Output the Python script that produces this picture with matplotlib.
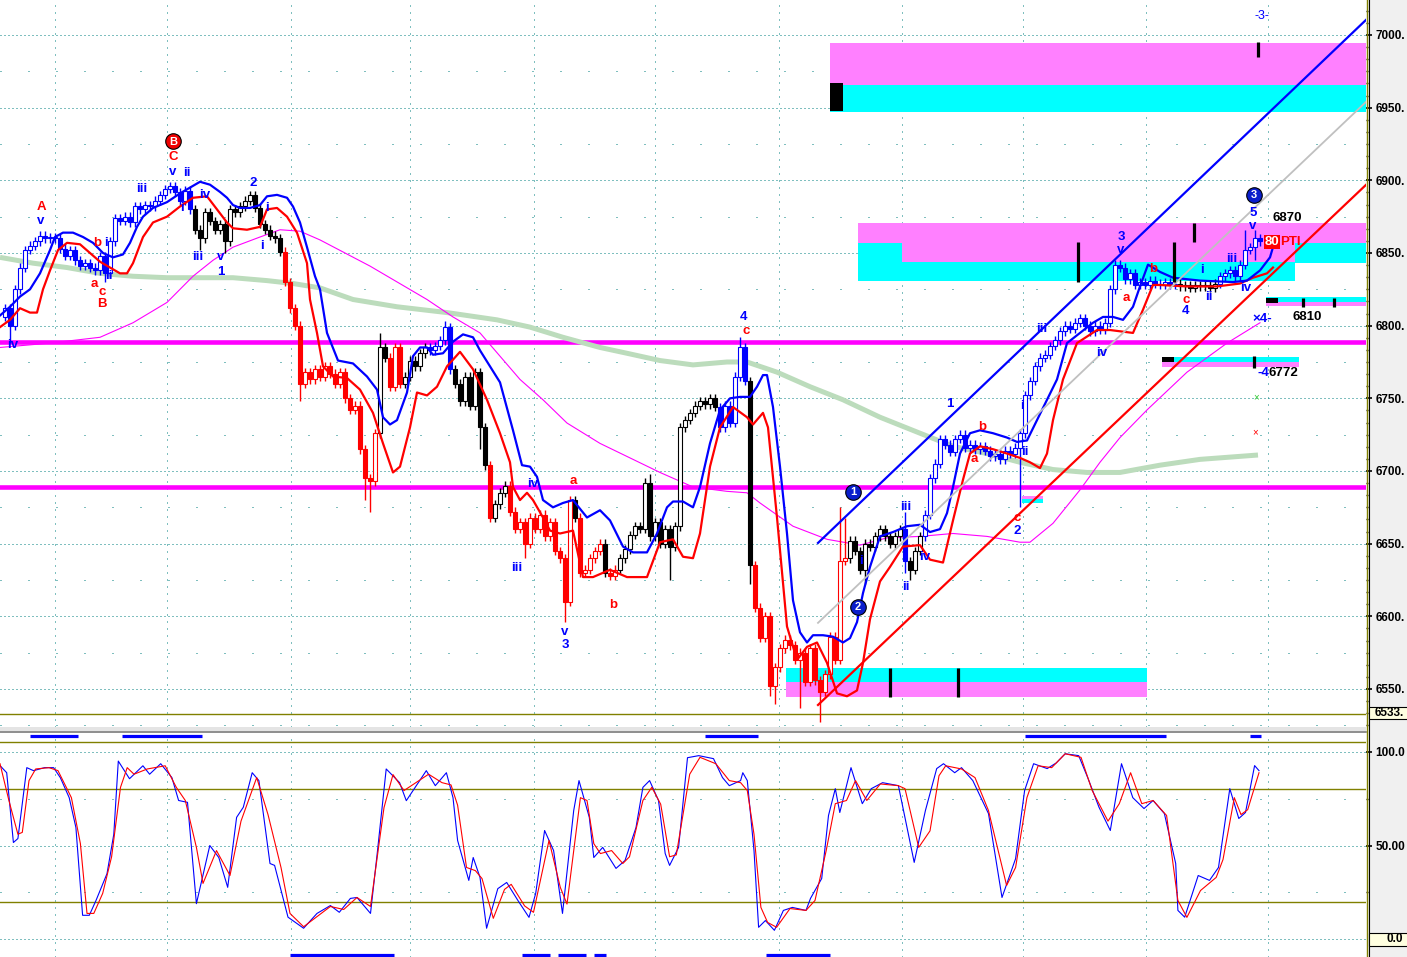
import matplotlib
matplotlib.use("Agg")
import matplotlib.pyplot as plt
from matplotlib.patches import Rectangle
from matplotlib.lines import Line2D

plt.rcParams["lines.scale_dashes"] = False
plt.rcParams["font.family"] = ["Liberation Sans", "DejaVu Sans"]

# ---------------- price bars (bar n, open = previous close) ----------------
FIRST_OPEN = 6806
CLOSE = [
    6812, 6800, 6825, 6840, 6852, 6855, 6858, 6862, 6860, 6861,
    6860, 6853, 6848, 6852, 6845, 6841, 6843, 6840, 6838, 6848,
    6836, 6858, 6874, 6872, 6875, 6871, 6882, 6880, 6883, 6882,
    6886, 6890, 6894, 6896, 6892, 6886, 6893, 6880, 6866, 6860,
    6878, 6872, 6866, 6870, 6858, 6880, 6878, 6882, 6886, 6890,
    6881, 6870, 6866, 6862, 6860, 6851, 6830, 6812, 6800, 6760,
    6768, 6763, 6770, 6765, 6772, 6767, 6760, 6768, 6750, 6742,
    6745, 6715, 6695, 6693, 6726, 6785, 6778, 6758, 6785, 6760,
    6765, 6776, 6772, 6781, 6785, 6783, 6786, 6790, 6799, 6770,
    6760, 6748, 6765, 6745, 6768, 6730, 6704, 6668, 6677, 6685,
    6690, 6672, 6660, 6665, 6650, 6668, 6660, 6670, 6655, 6665,
    6645, 6640, 6610, 6680, 6668, 6630, 6632, 6640, 6645, 6650,
    6630, 6628, 6632, 6640, 6646, 6656, 6662, 6660, 6692, 6655,
    6665, 6650, 6660, 6648, 6662, 6730, 6735, 6740, 6745, 6748,
    6746, 6750, 6744, 6730, 6745, 6733, 6765, 6785, 6762, 6635,
    6606, 6585, 6600, 6552, 6565, 6578, 6584, 6580, 6570, 6575,
    6555, 6578, 6556, 6548, 6560, 6586, 6570, 6638, 6640, 6652,
    6645, 6632, 6650, 6648, 6655, 6660, 6655, 6650, 6655, 6660,
    6638, 6632, 6645, 6655, 6670, 6695, 6705, 6722, 6718, 6713,
    6722, 6725, 6716, 6718, 6715, 6717, 6714, 6710, 6712, 6708,
    6714, 6712, 6716, 6726, 6752, 6762, 6772, 6778, 6780, 6786,
    6790, 6796, 6800, 6798, 6802, 6805, 6800, 6796, 6800, 6797,
    6802, 6825, 6842, 6840, 6832, 6836, 6828, 6830, 6828, 6831,
    6829, 6828, 6830, 6828, 6829, 6827, 6828, 6826, 6828, 6827,
    6828, 6826, 6829, 6834, 6836, 6838, 6834, 6842, 6852, 6854,
    6860, 6858,
]
# bar colouring of the chart (b = blue, k = black, r = red), run lengths
COLOR_RUNS = [("b", 38), ("k", 18), ("r", 19), ("k", 2), ("r", 3), ("k", 5),
              ("b", 5), ("k", 7), ("r", 1), ("k", 3), ("r", 13), ("k", 1),
              ("r", 5), ("k", 1), ("r", 2), ("k", 20), ("b", 6), ("k", 1),
              ("r", 19), ("k", 11), ("b", 1), ("k", 3), ("b", 51), ("k", 8),
              ("b", 9)]
WICK = 3  # usual wick beyond the body, points
LONG_WICKS = {  # bar: (high, low)
    1: (None, 6788), 20: (None, 6830), 39: (None, 6852), 44: (None, 6850),
    59: (None, 6748), 72: (None, 6680), 73: (None, 6672), 75: (6795, None),
    88: (6803, None), 95: (None, 6715), 104: (None, 6640), 112: (None, 6596),
    129: (6698, None), 133: (None, 6625), 147: (6792, None), 149: (None, 6622),
    153: (None, 6545), 154: (None, 6540), 159: (None, 6537), 163: (None, 6527),
    167: (6675, None), 168: (6668, None), 172: (None, 6622), 180: (6672, 6630),
    181: (None, 6625), 203: (None, 6675), 248: (6866, None), 250: (6866, 6845),
}

# ---------------- overlay lines (bar, price) ----------------
BLUE_BAND_X = [-1, 1, 3, 5, 7, 9, 10, 11.6, 13.6, 15.6, 17.6, 19.6, 21.6, 23.6, 25, 26.4, 27.6,
               29.6, 32.4, 35, 37, 39, 41, 43, 44.4, 45.6, 47, 49, 51, 52.4, 54.4, 56.4, 57.6,
               59, 60.4, 62, 63, 64.4, 66.6, 69.6, 72.4, 74.4, 75.6, 77, 78.4, 80.4, 81.6, 83,
               84.4, 85.6, 87.6, 89.6, 91.6, 93.6, 95, 97, 99, 101.6, 103.4, 105, 106.4, 107.6,
               109.6, 111.6, 113.6, 116.4, 119, 121, 123.6, 125.6, 128.4, 130.4, 132.4, 133.6,
               135.6, 137.6, 139, 141, 143, 145, 147, 149, 150.4, 151.6, 152.4, 153.6, 155,
               156.4, 157.6, 159, 160.4, 161.6, 163.6, 165.6, 167.6, 169, 170.4, 171.6, 173,
               175, 177.6, 180.4, 183, 185, 187, 188.4, 189.6, 191, 193, 195, 197.6, 200.4,
               202.4, 204.4, 206.4, 208.4, 210.4, 212.4, 215, 217.6, 219.6, 221.6, 223.6,
               225.6, 227, 228.6, 231, 233.6, 239, 245.6, 248.4, 251, 253, 253.6]
BLUE_BAND_Y = [6807, 6813, 6820, 6825, 6836, 6852, 6861, 6864, 6864, 6861, 6857, 6850, 6847,
               6849, 6857, 6868, 6875, 6881, 6885, 6891, 6895, 6899, 6897, 6892, 6888, 6883,
               6881, 6881, 6883, 6889, 6890, 6888, 6882, 6871, 6854, 6834, 6825, 6795, 6776,
               6774, 6765, 6756, 6737, 6732, 6735, 6754, 6779, 6785, 6785, 6780, 6781, 6789,
               6794, 6792, 6783, 6772, 6761, 6728, 6704, 6703, 6696, 6680, 6675, 6678, 6680,
               6668, 6673, 6666, 6648, 6644, 6644, 6657, 6675, 6679, 6679, 6675, 6689, 6719,
               6742, 6750, 6751, 6751, 6758, 6766, 6766, 6744, 6703, 6657, 6611, 6589, 6582,
               6587, 6587, 6586, 6582, 6585, 6596, 6616, 6634, 6655, 6658, 6662, 6663, 6658,
               6660, 6671, 6689, 6712, 6726, 6728, 6726, 6723, 6720, 6721, 6735, 6749, 6763,
               6788, 6795, 6802, 6806, 6806, 6804, 6813, 6827, 6842, 6837, 6833, 6831, 6830,
               6831, 6838, 6847, 6854]
RED_BAND_X = [-1, 1, 3, 5, 6.4, 7.6, 9, 10.6, 12.4, 15, 17, 19, 21, 23, 24.4, 25.6, 27.6, 29.6,
              32.4, 35, 37.6, 40.4, 42.4, 44.4, 45.6, 48.4, 51, 52.4, 54.4, 56.4, 58.4, 60.4,
              61, 62.4, 63.6, 65.6, 68.4, 71, 73.6, 75.6, 77.6, 79, 81, 82.4, 84.4, 86.4, 88.4,
              91, 93.6, 96.4, 99, 101, 101.6, 103, 104.4, 105.6, 107.6, 109, 111, 113.6, 115.6,
              117.6, 121, 124.4, 128.4, 131, 133.6, 135.6, 137.6, 139, 141, 143, 145.6, 148.4,
              149.6, 151.6, 152.6, 154.4, 156.4, 158.4, 160.4, 162.4, 164.4, 166.4, 168.4,
              170.4, 171.6, 173, 175, 177, 179.6, 183, 185, 187.6, 189.6, 191.6, 193, 195,
              197.6, 200.4, 203, 205, 207, 208.4, 209.6, 211.6, 214.4, 218.4, 221, 225.6,
              227.6, 229.6, 231, 236.4, 242.4, 247, 249.6, 252.4, 253.6]
RED_BAND_Y = [6799, 6804, 6812, 6809, 6809, 6825, 6838, 6852, 6857, 6856, 6850, 6844, 6840,
              6836, 6836, 6843, 6861, 6871, 6875, 6882, 6888, 6889, 6880, 6871, 6867, 6866,
              6868, 6880, 6881, 6875, 6864, 6843, 6818, 6795, 6772, 6765, 6764, 6756, 6740,
              6719, 6699, 6703, 6730, 6754, 6752, 6758, 6772, 6782, 6770, 6749, 6726, 6706,
              6689, 6680, 6685, 6680, 6668, 6659, 6657, 6659, 6627, 6627, 6632, 6627, 6627,
              6651, 6653, 6641, 6640, 6657, 6703, 6730, 6744, 6737, 6732, 6740, 6730, 6668,
              6593, 6570, 6579, 6582, 6568, 6547, 6545, 6549, 6568, 6598, 6624, 6634, 6648,
              6649, 6639, 6637, 6666, 6694, 6712, 6717, 6715, 6712, 6709, 6706, 6702, 6712,
              6735, 6763, 6788, 6797, 6797, 6795, 6811, 6828, 6828, 6827, 6827, 6829, 6833,
              6836, 6840]
MAGENTA_MA_X = [-1, 9, 19, 25.6, 32.4, 37.6, 41.6, 45.6, 51, 55, 59, 63, 73, 84.4, 89.6, 95,
                99, 103, 107.6, 112.4, 119, 124.4, 131, 137.6, 144.4, 148.4, 151, 157.6, 164.4,
                171, 176.4, 183, 189.6, 196.4, 203, 205, 209.6, 215, 219, 223, 228.4, 236.4,
                244.4, 251]
MAGENTA_MA_Y = [6785, 6788, 6792, 6802, 6816, 6834, 6845, 6854, 6861, 6866, 6865, 6859, 6841,
                6818, 6806, 6795, 6779, 6763, 6749, 6733, 6719, 6710, 6699, 6689, 6686, 6685,
                6678, 6662, 6653, 6649, 6654, 6655, 6657, 6655, 6651, 6651, 6664, 6687, 6706,
                6723, 6742, 6768, 6788, 6802]
GREEN_MA_X = [-1, 5.6, 12.4, 19, 25.6, 32.4, 45.6, 52.4, 57.6, 63, 69.6, 78.4, 88.4, 98.4, 105,
              111.6, 119, 124.4, 131, 137.6, 144.4, 148.4, 154.4, 161, 167.6, 175, 183, 189.6,
              196.4, 203, 209.6, 216.4, 223, 231, 239, 250.6]
GREEN_MA_Y = [6847, 6843, 6840, 6836, 6834, 6833, 6833, 6831, 6829, 6826, 6818, 6813, 6809,
              6804, 6799, 6792, 6785, 6781, 6776, 6773, 6775, 6775, 6768, 6758, 6749, 6737,
              6726, 6717, 6712, 6706, 6701, 6699, 6699, 6704, 6708, 6711]

# trend channel (start bar, start price, end bar, end price)
CHANNELS = [
    (162.6, 6650.5, 272.6, 7011.7, "#0000ff", 1.6),
    (162.6, 6595.5, 272.6, 6955.3, "#c0c0c0", 1.3),
    (162.6, 6539.0, 272.6, 6898.2, "#ff0000", 1.6),
]
LEVELS = [6788.8, 6689.0]
LOW_LINE = 6532.8

# target zones (bar from, bar to, price low, price high, colour)
MAG, CYA = "#ff80ff", "#00ffff"
ZONES = [
    (165.0, 272.2, 6965.6, 6994.7, MAG), (165.0, 272.2, 6947.2, 6965.6, CYA),
    (170.6, 272.2, 6856.9, 6870.6, MAG), (170.6, 272.2, 6843.1, 6856.9, CYA),
    (170.6, 258.0, 6830.7, 6843.8, CYA), (179.4, 258.0, 6843.8, 6856.9, MAG),
    (156.2, 228.4, 6554.8, 6564.4, CYA), (156.2, 228.4, 6544.5, 6554.8, MAG),
    (252.2, 272.2, 6816.3, 6819.7, CYA), (252.2, 272.2, 6813.2, 6816.3, MAG),
    (231.4, 258.8, 6775.0, 6778.5, CYA), (231.4, 258.8, 6771.6, 6775.0, MAG),
    (203.4, 207.6, 6680.6, 6682.8, MAG), (203.4, 207.6, 6678.2, 6680.6, CYA),
]
BLOCKS = [(165.0, 167.6, 6947.7, 6967.0), (252.2, 254.6, 6815.6, 6819.0),
          (231.4, 233.8, 6775.0, 6778.5)]
TICKS = [(250.6, 6984.9, 6995.2), (214.6, 6830.1, 6857.6), (233.8, 6830.1, 6857.6),
         (237.8, 6857.6, 6870.6), (177.0, 6544.5, 6564.4), (190.6, 6544.5, 6564.4),
         (259.6, 6812.9, 6819.0), (265.8, 6812.9, 6819.0), (249.8, 6770.9, 6779.2)]

# wave counts (bar, price, text, colour)
BL, RD = "#0000ff", "#ff0000"
WAVES = [
    (7.2, 6881.6, "A", RD), (7.2, 6872.0, "v", BL), (1.6, 6787.0, "iv", BL),
    (33.6, 6916.0, "C", RD), (33.6, 6906.0, "v", BL), (36.4, 6905.0, "ii", BL),
    (27.4, 6894.0, "iii", BL), (35.4, 6881.0, "i", BL), (40.0, 6890.0, "iv", BL),
    (38.6, 6847.0, "iii", BL), (43.2, 6847.0, "v", BL), (43.2, 6837.0, "1", BL),
    (49.6, 6898.0, "2", BL), (51.4, 6855.0, "i", BL), (52.4, 6881.0, "i", BL),
    (18.4, 6857.0, "b", RD), (20.2, 6857.0, "i", BL), (20.8, 6834.0, "ii", BL),
    (17.8, 6829.0, "a", RD), (19.4, 6823.0, "c", RD), (19.4, 6815.0, "B", RD),
    (105.6, 6691.0, "iv", BL), (113.6, 6693.0, "a", RD), (102.4, 6633.0, "iii", BL),
    (112.0, 6589.0, "v", BL), (112.0, 6580.0, "3", BL), (121.6, 6608.0, "b", RD),
    (147.8, 6806.0, "4", BL), (148.2, 6796.0, "c", RD),
    (171.3, 6638.0, "i", BL), (180.2, 6675.0, "iii", BL), (180.2, 6620.0, "ii", BL),
    (184.0, 6641.0, "iv", BL), (189.0, 6746.0, "1", BL), (195.4, 6730.0, "b", RD),
    (193.8, 6708.0, "a", RD), (203.4, 6745.0, "i", BL), (204.0, 6713.0, "ii", BL),
    (202.4, 6668.0, "c", RD), (202.4, 6659.0, "2", BL), (207.4, 6798.0, "iii", BL),
    (219.4, 6781.0, "iv", BL), (223.2, 6861.0, "3", BL), (223.2, 6852.0, "v", BL),
    (224.2, 6819.0, "a", RD), (229.6, 6839.0, "b", RD), (239.4, 6838.0, "i", BL),
    (236.2, 6818.0, "c", RD), (236.0, 6810.0, "4", BL), (240.8, 6820.0, "ii", BL),
    (245.4, 6846.0, "iii", BL), (248.2, 6826.0, "iv", BL), (249.6, 6877.5, "5", BL),
    (249.6, 6868.6, "v", BL),
]
CIRCLES = [(33.6, 6927.0, "B", "#ee0000"), (169.6, 6685.6, "1", "#0a1ecc"),
           (170.6, 6606.5, "2", "#0a1ecc"), (249.8, 6890.0, "3", "#0a1ecc")]

# ---------------- stochastic ----------------
K_X = [-1, 0.34, 1.68, 2.58, 4.36, 5.7, 7.92, 9.72, 11.06, 12.84, 14.18, 15.52, 16.86, 18.2,
       20.4, 21.76, 22.66, 24.9, 27.58, 28.92, 31.14, 33.38, 34.72, 36.5, 38.28, 40.96, 42.76,
       44.54, 46.32, 47.66, 49.44, 50.78, 53, 53.92, 56.6, 59.72, 62.4, 65.08, 66.86, 69.08,
       70.4, 73.1, 74.44, 76.24, 78.92, 80.26, 82.48, 84.26, 86.06, 88.28, 89.6, 90.52, 92.76,
       93.64, 95, 96.32, 98.56, 100.34, 102.58, 104.8, 106.14, 107.92, 109.72, 111.5, 113.74,
       114.8, 116.86, 117.76, 119.54, 122.2, 124, 126.2, 127.58, 128.92, 130.7, 132.04, 132.92,
       134.72, 136.5, 138.74, 141.7, 143.5, 144.86, 147.12, 147.56, 148.46, 149.8, 150.72,
       152.08, 153.88, 155.68, 157.48, 160.2, 161.1, 163.34, 164.7, 166.06, 166.96, 169.2,
       171.46, 173.26, 175.52, 178.68, 181.84, 184.08, 186.34, 187.7, 189.94, 191.3, 193.56,
       196.7, 199.4, 202.12, 203.92, 205.72, 208.44, 210.24, 212.04, 214.74, 216.54, 218.8,
       221.06, 223.3, 225.56, 227.8, 229.62, 231.88, 234.14, 234.58, 235.94, 238.64, 240.9,
       242.7, 244.96, 246.76, 248.1, 249.92, 250.8]
K_V = [92.6, 88.8, 51.6, 53.7, 91.5, 89.9, 91.5, 91.5, 86.2, 75.5, 59.6, 12.8, 12.8, 20.7,
       35, 56, 95, 85.6, 92.5, 88, 93.6, 86.2, 74, 73, 19, 50, 43.6, 27.7, 65, 70.4, 88.8,
       84.6, 40.4, 39.4, 11.8, 5.9, 13.8, 18, 14.4, 21.8, 22.3, 13.8, 45.7, 90.8, 83.5, 73.9,
       82.8, 89.9, 81.9, 88.8, 75.5, 52.7, 31.4, 43.6, 33, 5.9, 27, 30.3, 20.7, 11.7, 24.5,
       58, 47.3, 13.8, 68.6, 84.6, 65, 43.6, 49, 37.8, 42, 59.6, 81, 84.6, 74, 45.7, 39.4,
       49, 96.8, 97.9, 96.3, 86.2, 81.9, 84.6, 88.8, 84.6, 47.3, 6.4, 10, 4.8, 15.4, 17,
       15.4, 21.8, 32.4, 66, 80.3, 67.6, 91.5, 72.3, 80.3, 83.5, 81.9, 41, 68.6, 91, 93.6,
       88.8, 91.5, 84.6, 67, 22.3, 43, 79.3, 93.6, 91, 94, 98.9, 97.9, 86.2, 70.4, 58, 93.6,
       75.5, 69.7, 74, 67, 40.4, 15.4, 11.8, 34, 31.4, 38.3, 80.3, 64.4, 67.6, 92.6, 89.9]
D_X = [-1, 0.78, 2.58, 3.46, 4.8, 6.14, 8.8, 10.6, 13.28, 15.08, 16.4, 17.76, 19.54, 21.32,
       23.1, 24.44, 25.8, 28.46, 32.04, 34.26, 36.06, 38.28, 39.6, 42.3, 45, 47.2, 50.34, 52.6,
       55.2, 57, 59.72, 65.08, 67.74, 70.4, 73.1, 75.8, 77.6, 79.8, 84.72, 87.4, 89.2, 90.52,
       92.3, 94.08, 95.4, 97.66, 99.9, 101.24, 103.92, 105.7, 108.8, 111.06, 112.4, 115.08,
       116.4, 117.76, 119.08, 121.32, 123.56, 124.9, 127.58, 129.36, 131.14, 132.92, 134.26,
       136.94, 139, 142.16, 144.86, 147.12, 148.46, 149.8, 151.18, 152.52, 154.32, 157, 160.2,
       162, 164.24, 166.06, 168.3, 170.1, 172.36, 175.06, 178.68, 180, 182.74, 185, 186.8,
       188.14, 191.3, 194, 196.7, 200.32, 202.12, 204.38, 206.62, 209.34, 212.04, 215.2,
       217.44, 220.6, 222.86, 225.12, 227.36, 229.62, 232.32, 234.58, 236.38, 239.1, 242.24,
       243.6, 245.86, 247.2, 248.54, 250.8]
D_V = [93.6, 74, 56, 57, 84.6, 90.8, 91.5, 89.9, 75.5, 51, 13.8, 13.8, 24.5, 44, 81, 91.5,
       88, 90.8, 92.5, 81, 74, 49, 29.8, 47.3, 34, 63, 86.2, 66.5, 38.3, 13.8, 6.7, 17.5,
       15.9, 22.3, 17.5, 70.2, 87.8, 79.3, 88, 83.5, 82.3, 71.5, 38.3, 36.6, 32.4, 11.2, 26.6,
       29.3, 17.8, 14.4, 52.7, 27.7, 18.8, 75.5, 74, 51, 45.7, 47.3, 40.4, 44, 74, 81, 72, 44,
       45, 88, 97, 93.6, 84.6, 83.5, 79.3, 56, 17, 9, 6.4, 16.4, 15.4, 20.7, 47.3, 72.3, 74,
       84.6, 74, 82.8, 81.9, 80.3, 49, 57.8, 87.2, 92.5, 90.8, 86.2, 68.6, 28.7, 38.3, 75.5,
       92.5, 91.5, 98.9, 97, 79.3, 63, 72.3, 88.8, 72.3, 74, 66, 20.7, 11.7, 26, 33, 42.5,
       75.5, 66.5, 69.1, 88.8]
SIGNAL_TOP = [(5, 14.6), (23.4, 39.4), (140, 150.6), (204, 232.2), (249, 251.2)]
SIGNAL_BOTTOM = [(57, 77.8), (103.4, 109), (110.6, 116.2), (117.8, 120.2), (152.2, 165)]
GRID_BARS = [10, 32.4, 57.2, 81, 105.8, 130, 154.8, 179.4, 203.6, 228.2, 252.6]

# ---------------- figure ----------------
W, H = 1407, 957
GRID = "#008080"
OLIVE = "#808000"
DENSE = (0, (0.72, 2.16))
SPARSE = (0, (0.72, 19.44))
VDOT = (0, (0.72, 4.32))

fig = plt.figure(figsize=(W / 100, H / 100), dpi=100)
ax = fig.add_axes([0, 1 - 727 / H, 1366 / W, 727 / H])
axs = fig.add_axes([0, 0, 1366 / W, 224 / H])

for a in (ax, axs):
    a.set_xlim(-1, 272.2)
    for s in a.spines.values():
        s.set_visible(False)
    a.tick_params(axis="x", bottom=False, labelbottom=False)
    a.yaxis.tick_right()
    a.tick_params(axis="y", which="major", length=4.5, width=1.2, pad=2.5, labelsize=8.5)
    a.tick_params(axis="y", which="minor", length=1.5, width=1)
    for b in GRID_BARS:
        a.axvline(b, color=GRID, lw=0.72, ls=VDOT, zorder=1)

ax.set_ylim(6523.85, 7024.08)
ax.set_yticks(range(6550, 7001, 50), [f"{v}." for v in range(6550, 7001, 50)],
              fontweight="bold")
ax.set_yticks([6525 + k * 25 / 3 for k in range(60)], minor=True)
for v in range(6550, 7001, 50):
    ax.axhline(v, color=GRID, lw=0.72, ls=DENSE, zorder=1)
for v in range(6525, 7001, 50):
    ax.axhline(v, color=GRID, lw=0.72, ls=SPARSE, zorder=1)
ax.axhline(LOW_LINE, color=OLIVE, lw=1, zorder=1.5)

# zones and levels
for x0, x1, p0, p1, c in ZONES:
    ax.add_patch(Rectangle((x0, p0), x1 - x0, p1 - p0, facecolor=c, edgecolor="none", zorder=1.2))
for x0, x1, p0, p1 in BLOCKS:
    ax.add_patch(Rectangle((x0, p0), x1 - x0, p1 - p0, facecolor="black", edgecolor="none", zorder=1.3))
for lv in LEVELS:
    ax.axhline(lv, color="#ff00ff", lw=3.3, zorder=1.4)
ax.vlines([t[0] for t in TICKS], [t[1] for t in TICKS], [t[2] for t in TICKS],
          color="black", lw=2.3, zorder=6)

ax.plot(GREEN_MA_X, GREEN_MA_Y, color="#bcdcbc", lw=3.6, zorder=2, solid_capstyle="butt")
ax.plot(MAGENTA_MA_X, MAGENTA_MA_Y, color="#ff00ff", lw=0.8, zorder=2.2)

# candles
codes = "".join(c * n for c, n in COLOR_RUNS)
tone = {"b": "#0000ff", "k": "#000000", "r": "#ff0000"}
opens = [FIRST_OPEN] + CLOSE[:-1]
xs = list(range(len(CLOSE)))
highs, lows, bottoms, heights, faces, edges = [], [], [], [], [], []
for i, (o, c) in enumerate(zip(opens, CLOSE)):
    hi, lo = LONG_WICKS.get(i, (None, None))
    highs.append(hi if hi is not None else max(o, c) + WICK)
    lows.append(lo if lo is not None else min(o, c) - WICK)
    bottoms.append(min(o, c))
    heights.append(max(abs(c - o), 0.7))
    col = tone[codes[i]]
    edges.append(col)
    faces.append("white" if c > o else col)
ax.vlines(xs, lows, highs, colors=edges, lw=1, zorder=3)
ax.bar(xs, heights, bottom=bottoms, width=0.78, color=faces, edgecolor=edges,
       linewidth=0.8, zorder=3.5)

ax.plot(RED_BAND_X, RED_BAND_Y, color="#ff0000", lw=1.6, zorder=4)
ax.plot(BLUE_BAND_X, BLUE_BAND_Y, color="#0000ff", lw=1.6, zorder=4.1)
for x0, y0, x1, y1, c, lw in CHANNELS:
    ax.plot([x0, x1], [y0, y1], color=c, lw=lw, zorder=5)

for x, y, s, c in WAVES:
    ax.text(x, y, s, color=c, fontsize=9.5, fontweight="bold", ha="center", va="center", zorder=8)
for x, y, s, c in CIRCLES:
    ax.scatter([x], [y], s=125, color=c, edgecolor="black", linewidth=0.8, zorder=8)
    ax.text(x, y - 0.3, s, color="white", fontsize=8, fontweight="bold", ha="center",
            va="center", zorder=9)

ax.text(251.4, 7013, "-3-", color=BL, fontsize=9, ha="center", va="center", zorder=8)
ax.text(256.4, 6874.1, "6870", color="black", fontsize=9.5, fontweight="bold",
        ha="center", va="center", zorder=8)
ax.text(253.4, 6857.6, "80", color="white", fontsize=9.5, fontweight="bold", ha="center",
        va="center", zorder=8, bbox=dict(facecolor="#ff0000", edgecolor="none", pad=0.6))
ax.text(255.0, 6857.6, "PTI", color="#ff0000", fontsize=9.5, fontweight="bold",
        ha="left", va="center", zorder=8)
ax.text(260.4, 6806.0, "6810", color="black", fontsize=9.5, fontweight="bold",
        ha="center", va="center", zorder=8)
ax.text(251.4, 6804.6, "×4-", color=BL, fontsize=9.5, fontweight="bold",
        ha="center", va="center", zorder=8)
ax.text(251.6, 6767.5, "-4", color=BL, fontsize=9.5, fontweight="bold",
        ha="center", va="center", zorder=8)
ax.text(255.6, 6767.5, "6772", color="black", fontsize=9.5, fontweight="bold",
        ha="center", va="center", zorder=8)
ax.text(250.2, 6751.0, "×", color="#33cc33", fontsize=7, ha="center", va="center", zorder=8)
ax.text(250.0, 6726.9, "×", color="#ff0000", fontsize=7, ha="center", va="center", zorder=8)

# stochastic panel
axs.set_ylim(-9.43, 109.97)
axs.set_yticks([50, 100], ["50.00", "100.0"], fontweight="bold")
axs.set_yticks([25, 75], minor=True)
for v in (0, 50, 100):
    axs.axhline(v, color=GRID, lw=0.72, ls=DENSE, zorder=1)
for v in (25, 75):
    axs.axhline(v, color=GRID, lw=0.72, ls=SPARSE, zorder=1)
for v in (20, 80, 105.2):
    axs.axhline(v, color=OLIVE, lw=1, zorder=1.5)
axs.plot(K_X, K_V, color="#0000ff", lw=0.8, zorder=3)
axs.plot(D_X, D_V, color="#ff0000", lw=0.8, zorder=3.1)
for x0, x1 in SIGNAL_TOP:
    axs.hlines(108.4, x0, x1, color="#0000ff", lw=2.3, zorder=4)
for x0, x1 in SIGNAL_BOTTOM:
    axs.hlines(-8.3, x0, x1, color="#0000ff", lw=2.3, zorder=4)


# frame pieces in pixel space
def fx(px):
    return px / W


def fy(py):
    return 1 - py / H


fig.patches.append(Rectangle((fx(1368), 0), fx(W - 1368), 1, transform=fig.transFigure,
                             facecolor="#f0f0f0", edgecolor="none", zorder=-1))
fig.patches.append(Rectangle((0, fy(733)), fx(1366), 6 / H, transform=fig.transFigure,
                             facecolor="#e4e4e4", edgecolor="none", zorder=2))
fig.lines.append(Line2D([0, fx(1366)], [fy(732), fy(732)], transform=fig.transFigure,
                        color="#808080", lw=1.2, zorder=3))
fig.lines.append(Line2D([fx(1366.5)] * 2, [0, 1], transform=fig.transFigure,
                        color=OLIVE, lw=1, zorder=3))
fig.lines.append(Line2D([fx(1368.5)] * 2, [0, 1], transform=fig.transFigure,
                        color="black", lw=0.8, zorder=3))
for py0, py1 in ((707, 719), (933, 946)):
    fig.patches.append(Rectangle((fx(1369), fy(py1)), fx(40), (py1 - py0) / H,
                                 transform=fig.transFigure, facecolor="#ffffe0",
                                 edgecolor="black", lw=0.8, zorder=4))
fig.text(fx(1375), fy(713), "6533.", fontsize=8.5, fontweight="bold", ha="left",
         va="center", zorder=5)
fig.text(fx(1403), fy(939.5), "0.0", fontsize=8.5, fontweight="bold", ha="right",
         va="center", zorder=5)

fig.savefig("out.png", dpi=100)
